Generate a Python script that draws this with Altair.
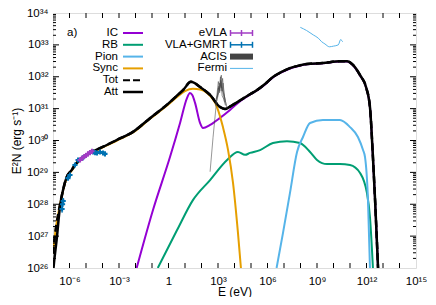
import altair as alt
import numpy as np
import pandas as pd

# ---------------- data (log10 values) ----------------
att_logE = [-6.97, -6.94, -6.78, -6.58, -6.39, -6.17, -5.87, -5.67, -5.18, -4.58, -4.15, -3.12, -2.15, -1.12,
            -0.03, 0.50, 0.88, 1.36, 1.91, 2.52, 3.12, 3.42, 3.90, 4.40, 4.94, 5.36, 5.85, 6.33, 6.85, 7.36,
            7.90, 8.39, 9.36, 10.39, 10.82, 11.18, 11.61, 11.97, 12.21, 12.39, 12.52, 12.70]
att_logY = [26.0, 26.16, 26.88, 27.91, 28.45, 28.85, 29.07, 29.23, 29.48, 29.66, 29.76, 30.02, 30.27, 30.70,
            31.15, 31.40, 31.58, 31.84, 31.68, 31.43, 31.05, 30.99, 31.12, 31.28, 31.45, 31.58, 31.77, 31.99,
            32.15, 32.27, 32.35, 32.40, 32.43, 32.49, 32.49, 32.37, 32.05, 31.68, 31.05, 29.48, 28.13, 26.0]

tot_logE = [-7.0, -6.9, -6.8, -6.7, -6.58] + att_logE[4:]
tot_logY = [26.45, 26.95, 27.35, 27.65, 27.98] + att_logY[4:]

sync_logE = [-7.0, -6.9, -6.8, -6.7, -6.58, -6.39, -6.17, -5.87, -5.67, -5.18, -4.15, -3.12, -2.15, -1.12,
             -0.03, 0.50, 1.0, 1.48, 1.91, 2.33, 2.94, 3.30, 3.61, 3.91, 4.21, 4.39]
sync_logY = [26.45, 26.95, 27.35, 27.65, 27.98, 28.43, 28.83, 29.05, 29.21, 29.46, 29.74, 30.0, 30.25, 30.68,
             31.12, 31.36, 31.55, 31.62, 31.60, 31.49, 31.05, 30.42, 29.70, 28.67, 27.10, 26.0]

ic_logE = [-1.93, -0.94, 0.09, 0.70, 1.12, 1.30, 1.45, 1.61, 1.91, 2.09, 2.52, 3.12, 3.73, 4.40, 4.94, 5.36,
           5.85, 6.33, 6.85, 7.36, 7.90, 8.39, 9.36, 10.39, 10.82, 11.18, 11.61, 11.97, 12.21, 12.39, 12.52, 12.70]
ic_logY = [26.0, 27.82, 29.48, 30.55, 31.33, 31.49, 31.42, 31.18, 30.55, 30.39, 30.49, 30.71, 30.96, 31.26,
           31.44, 31.57, 31.76, 31.98, 32.14, 32.26, 32.34, 32.39, 32.42, 32.48, 32.48, 32.36, 32.04, 31.67,
           31.04, 29.47, 28.12, 26.0]

rb_logE = [-0.65, 0.52, 1.48, 2.52, 3.55, 4.21, 4.64, 4.94, 5.55, 6.33, 7.18, 7.97, 8.58, 9.0, 9.61, 10.39,
           11.0, 11.61, 12.03, 12.21, 12.39]
rb_logY = [26.0, 27.19, 28.13, 28.76, 29.39, 29.64, 29.55, 29.61, 29.70, 29.92, 29.98, 29.92, 29.64, 29.39,
           29.26, 29.26, 29.23, 28.98, 28.35, 27.60, 26.0]

pion_logE = [6.55, 6.94, 7.36, 7.79, 8.15, 8.58, 9.36, 10.39, 11.0, 11.48, 11.79, 11.91, 12.09, 12.21]
pion_logY = [26.0, 27.10, 28.35, 29.64, 30.11, 30.55, 30.64, 30.64, 30.42, 30.11, 29.70, 29.48, 28.13, 26.0]

fermi_logE = [7.99, 8.37, 8.78, 9.08, 9.28, 9.48, 9.75, 9.99, 10.29, 10.44, 10.50, 10.56]
fermi_logY = [33.55, 33.45, 33.31, 33.21, 33.10, 33.03, 32.94, 32.96, 33.00, 33.17, 33.13, 33.10]

acis_id = [0] * 9 + [1] * 8 + [2] * 7 + [3] * 7 + [4] * 7
acis_logE = [2.52, 2.70, 2.90, 3.02, 3.10, 3.17, 3.25, 3.35, 3.45,
             2.85, 2.95, 3.02, 3.08, 3.15, 3.22, 3.30, 3.40,
             2.90, 3.00, 3.10, 3.20, 3.28, 3.35, 3.50,
             2.88, 3.05, 3.13, 3.20, 3.27, 3.38, 3.55,
             2.95, 3.04, 3.11, 3.18, 3.24, 3.31, 3.42]
acis_logY = [29.02, 30.10, 31.17, 31.65, 31.50, 31.90, 31.40, 31.30, 31.10,
             31.10, 31.50, 31.85, 31.60, 32.00, 31.70, 31.50, 31.20,
             31.20, 31.40, 31.80, 31.65, 31.95, 31.50, 31.10,
             31.30, 31.50, 31.75, 32.05, 31.60, 31.40, 31.00,
             31.35, 31.70, 31.55, 31.85, 31.55, 31.80, 31.25]

vla_logE = [-6.45, -6.42, -6.38, -6.09, -5.97, -5.67, -5.48, -5.20, -4.58, -4.45, -4.33, -4.15, -3.97, -3.85]
vla_logY = [27.85, 28.00, 28.10, 28.82, 28.92, 29.23, 29.39, 29.45, 29.64, 29.62, 29.61, 29.64, 29.61, 29.58]
vla_err = [0.12, 0.10, 0.10, 0.06, 0.06, 0.05, 0.05, 0.05, 0.05, 0.05, 0.05, 0.05, 0.05, 0.05]

evla_logE = [-5.36, -5.25, -5.12, -5.0, -4.88, -4.76, -4.64]
evla_logY = [29.39, 29.44, 29.49, 29.53, 29.58, 29.62, 29.66]
evla_err = [0.05, 0.05, 0.05, 0.05, 0.05, 0.05, 0.05]

x_label_exps = [-6, -3, 0, 3, 6, 9, 12, 15]
y_label_exps = [26, 27, 28, 29, 30, 31, 32, 33, 34]

left_names = ["IC", "RB", "Pion", "Sync", "Tot", "Att"]
right_names = ["eVLA", "VLA+GMRT", "ACIS", "Fermi"]

# ---------------- styling ----------------
FONT = "Liberation Sans"
W, H = 363, 255
C_IC, C_RB, C_PION, C_SYNC = "#9400D3", "#009E73", "#56B4E9", "#E69F00"
C_EVLA, C_VLA, C_ACIS = "#A23CC4", "#0072B2", "#444444"

SUP = {"-": "\u207b", "0": "\u2070", "1": "\u00b9", "2": "\u00b2", "3": "\u00b3", "4": "\u2074",
       "5": "\u2075", "6": "\u2076", "7": "\u2077", "8": "\u2078", "9": "\u2079"}


def lab(e):
    return "1" if e == 0 else "10" + "".join(SUP[c] for c in str(e))


def label_expr(exps):
    expr = "''"
    for e in reversed(exps):
        expr = f"datum.value < {10.0 ** e * 3:g} ? '{lab(e)}' : ({expr})"
    return expr


xs = alt.Scale(type="log", domain=[1e-7, 1e15])
ys = alt.Scale(type="log", domain=[1e26, 1e34])
xaxis = alt.Axis(values=[10.0 ** e for e in x_label_exps], labelExpr=label_expr(x_label_exps),
                 ticks=False, tickSize=0, domain=False, grid=False, labelFont=FONT, labelFontSize=11.5,
                 labelColor="black", labelPadding=7, labelFlush=False, labelOverlap=False,
                 title="E (eV)", titleFont=FONT, titleFontSize=12, titleFontWeight="normal",
                 titleColor="black", titleY=23, titleBaseline="middle")
yaxis = alt.Axis(values=[10.0 ** e for e in y_label_exps], labelExpr=label_expr(y_label_exps),
                 ticks=False, tickSize=0, domain=False, grid=False, labelFont=FONT, labelFontSize=11.5,
                 labelColor="black", labelPadding=5, labelFlush=False, labelOverlap=False,
                 title="E\u00b2N (erg s\u207b\u00b9)", titleFont=FONT, titleFontSize=12,
                 titleFontWeight="normal", titleColor="black", titleX=-37, titleBaseline="middle")

X = lambda f: alt.X(f, type="quantitative", scale=xs, axis=xaxis)
Y = lambda f: alt.Y(f, type="quantitative", scale=ys, axis=yaxis)


def frame(logE, logY, **extra):
    d = {"E": 10 ** np.array(logE, float), "F": 10 ** np.array(logY, float)}
    d.update(extra)
    return pd.DataFrame(d)


def curve(logE, logY, color, width, dash=None):
    kw = dict(color=color, strokeWidth=width, clip=True, interpolate="monotone")
    if dash:
        kw["strokeDash"] = dash
    return alt.Chart(frame(logE, logY)).mark_line(**kw).encode(x=X("E"), y=Y("F"))


layers = []
layers.append(curve(rb_logE, rb_logY, C_RB, 2))
layers.append(curve(pion_logE, pion_logY, C_PION, 2))
layers.append(curve(ic_logE, ic_logY, C_IC, 2))
layers.append(curve(sync_logE, sync_logY, C_SYNC, 2))
layers.append(curve(att_logE, att_logY, "black", 2.5))
layers.append(curve(tot_logE, tot_logY, "black", 2.5, dash=[7, 4]))
layers.append(curve(fermi_logE, fermi_logY, C_PION, 1))

acis = frame(acis_logE, acis_logY, id=acis_id)
layers.append(alt.Chart(acis).mark_line(color=C_ACIS, strokeWidth=0.7, opacity=0.8, clip=True)
              .encode(x=X("E"), y=Y("F"), detail="id:N"))


def points(logE, logY, err, color):
    df = frame(logE, logY)
    df["lo"] = 10 ** (np.array(logY) - np.array(err))
    df["hi"] = 10 ** (np.array(logY) + np.array(err))
    bars = alt.Chart(df).mark_rule(color=color, strokeWidth=1.2, clip=True).encode(
        x=X("E"), y=Y("lo"), y2="hi")
    pts = alt.Chart(df).mark_point(shape="cross", filled=True, size=26, color=color, opacity=1,
                                   clip=True).encode(x=X("E"), y=Y("F"))
    return [bars, pts]


layers += points(vla_logE, vla_logY, vla_err, C_VLA)
layers += points(evla_logE, evla_logY, evla_err, C_EVLA)

# ---- inward ticks on all four sides ----
xt = pd.DataFrame({"v": [10.0 ** k for k in range(-6, 15)]})
ymaj = pd.DataFrame({"v": [10.0 ** k for k in range(27, 34)]})
ymin = pd.DataFrame({"v": [m * 10.0 ** k for k in range(26, 34) for m in range(2, 10)]})
tk = dict(color="black", strokeWidth=1)
layers.append(alt.Chart(xt).mark_rule(**tk).encode(x=X("v"), y=alt.value(H), y2=alt.value(H - 5)))
layers.append(alt.Chart(xt).mark_rule(**tk).encode(x=X("v"), y=alt.value(0), y2=alt.value(5)))
for d, ln in ((ymaj, 6), (ymin, 3)):
    layers.append(alt.Chart(d).mark_rule(**tk).encode(y=Y("v"), x=alt.value(0), x2=alt.value(ln)))
    layers.append(alt.Chart(d).mark_rule(**tk).encode(y=Y("v"), x=alt.value(W), x2=alt.value(W - ln)))

# ---- legend (gnuplot style, inside the plot) ----
one = pd.DataFrame({"a": [0]})


def text(t, x, y, align="right"):
    return alt.Chart(pd.DataFrame({"t": [t]})).mark_text(
        font=FONT, fontSize=11.5, color="black", align=align, baseline="middle").encode(
        text="t:N", x=alt.value(x), y=alt.value(y))


def sample(x1, x2, y, color, width, dash=None):
    kw = dict(color=color, strokeWidth=width)
    if dash:
        kw["strokeDash"] = dash
    return alt.Chart(one).mark_rule(**kw).encode(x=alt.value(x1), x2=alt.value(x2), y=alt.value(y))


ROW0, DY = 20, 11.8
left_styles = [(C_IC, 2, None), (C_RB, 2, None), (C_PION, 2, None), (C_SYNC, 2, None),
               ("black", 2, [7, 3]), ("black", 2.5, None)]
for i, (name, (c, w, dsh)) in enumerate(zip(left_names, left_styles)):
    yy = ROW0 + i * DY
    layers.append(text(name, 65, yy))
    layers.append(sample(70, 90, yy, c, w, dsh))

for i, name in enumerate(right_names):
    yy = ROW0 + i * DY
    layers.append(text(name, 174, yy))
    if name in ("eVLA", "VLA+GMRT"):
        c = C_EVLA if name == "eVLA" else C_VLA
        layers.append(sample(177, 200, yy, c, 1.5))
        for xx in (177.5, 188.5, 199.5):
            layers.append(alt.Chart(one).mark_rule(color=c, strokeWidth=1.5).encode(
                x=alt.value(xx), y=alt.value(yy - 3), y2=alt.value(yy + 3)))
    elif name == "ACIS":
        layers.append(alt.Chart(one).mark_rect(color=C_ACIS).encode(
            x=alt.value(177), x2=alt.value(200), y=alt.value(yy - 3), y2=alt.value(yy + 3)))
    else:
        layers.append(sample(177, 200, yy, C_PION, 1))

layers.append(text("a)", 14, 20, align="left"))

chart = alt.layer(*layers).properties(
    width=W, height=H, autosize=alt.AutoSizeParams(type="none"),
    padding={"left": 45, "top": 5, "right": 12, "bottom": 29},
).configure_view(stroke="black", strokeWidth=1.2).configure(background="white")

chart.save("out.html", embed_options={"renderer": "svg", "actions": False})
